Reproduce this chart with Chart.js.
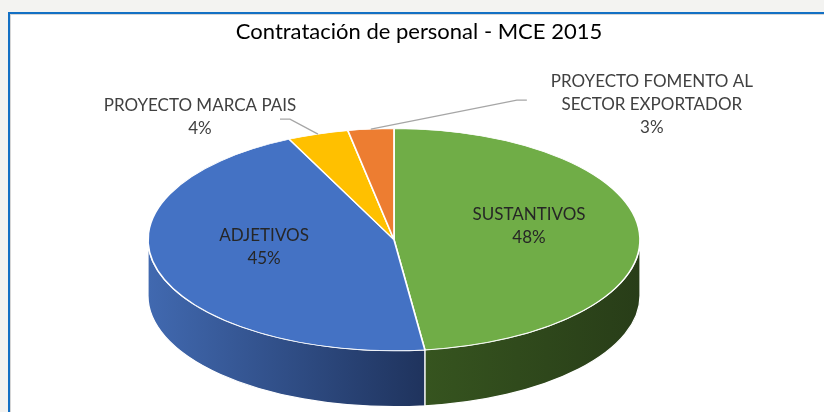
<!DOCTYPE html>
<html>
<head>
<meta charset="utf-8">
<script src="https://cdn.jsdelivr.net/npm/chart.js@4"></script>
<style>
html, body { margin: 0; padding: 0; width: 824px; height: 412px; overflow: hidden; background: #f3f3f1; }
#frame { position: absolute; left: 8px; top: 12px; width: 900px; height: 500px; background: #fff;
  border-top: 2px solid #1370c4; border-left: 2px solid #1370c4; box-shadow: inset 1px 1px 0 #d6d6d6; }
#wrap { position: absolute; left: 0; top: 0; width: 824px; height: 412px; }
</style>
</head>
<body>
<div id="frame"></div>
<div id="wrap"><canvas id="pie"></canvas></div>
<script>
const chartTitle = 'Contratación de personal - MCE 2015';
const categories = [['SUSTANTIVOS'], ['ADJETIVOS'], ['PROYECTO MARCA PAIS'], ['PROYECTO FOMENTO AL', 'SECTOR EXPORTADOR']];
const shares = [48, 45, 4, 3];
const topColors = ['#70ad47', '#4472c4', '#ffc000', '#ed7d31'];
const sideColors = [['#36541f', '#283d18'], ['#4169b0', '#1f335d'], ['#b88a00', '#8a6700'], ['#b45a1f', '#8a4415']];

// shape of the tilted pie
const RX = 246, RY = 111, DEPTH = 56, SHIFT_X = -25;
const FONT = 'Lato';
const LINE_H = 23;

// where the small slices put their labels, relative to the slice edge
const outside = {
  2: { text: [-118, -17], elbow: [-28, -15], tail: -10 },
  3: { text: [281, -25], elbow: [146, -29], tail: 10 }
};

const total = shares.reduce((a, b) => a + b, 0);

function geom(chart) {
  const arc = chart.getDatasetMeta(0).data[0];
  return { x: arc.x + SHIFT_X, y: arc.y, r: arc.outerRadius, ox: arc.x, oy: arc.y };
}

const pie3d = {
  id: 'pie3d',
  beforeDatasetsDraw(chart) {
    const ctx = chart.ctx;
    const arcs = chart.getDatasetMeta(0).data;
    const g = geom(chart);

    // side walls of the front half
    arcs.forEach((arc, i) => {
      [[0, Math.PI], [2 * Math.PI, 3 * Math.PI]].forEach(([lo, hi]) => {
        const s = Math.max(arc.startAngle, lo), e = Math.min(arc.endAngle, hi);
        if (e <= s) return;
        const xl = g.x + RX * Math.cos(e), xr = g.x + RX * Math.cos(s);
        const grad = ctx.createLinearGradient(xl, 0, xr, 0);
        grad.addColorStop(0, sideColors[i][0]);
        grad.addColorStop(1, sideColors[i][1]);
        ctx.save();
        ctx.beginPath();
        ctx.ellipse(g.x, g.y, RX, RY, 0, s, e);
        ctx.ellipse(g.x, g.y + DEPTH, RX, RY, 0, e, s, true);
        ctx.closePath();
        ctx.fillStyle = grad;
        ctx.fill();
        ctx.strokeStyle = '#ffffff';
        ctx.lineWidth = 1.2;
        ctx.stroke();
        ctx.restore();
      });
    });

    // squash the top face into an ellipse
    ctx.save();
    ctx.translate(g.x, g.y);
    ctx.scale(RX / g.r, RY / g.r);
    ctx.translate(-g.ox, -g.oy);
  },
  afterDatasetsDraw(chart) {
    const ctx = chart.ctx;
    ctx.restore();
    const arcs = chart.getDatasetMeta(0).data;
    const g = geom(chart);
    ctx.save();
    ctx.textAlign = 'center';
    ctx.textBaseline = 'middle';
    ctx.font = '17px ' + FONT;
    arcs.forEach((arc, i) => {
      const mid = (arc.startAngle + arc.endAngle) / 2;
      const lines = categories[i].concat([Math.round(shares[i] / total * 100) + '%']);
      let tx, ty;
      if (outside[i]) {
        const o = outside[i];
        const ax = g.x + RX * Math.cos(mid), ay = g.y + RY * Math.sin(mid);
        const ex = ax + o.elbow[0], ey = ay + o.elbow[1];
        ctx.strokeStyle = '#a6a6a6';
        ctx.lineWidth = 1.3;
        ctx.beginPath();
        ctx.moveTo(ax, ay);
        ctx.lineTo(ex, ey);
        ctx.lineTo(ex + o.tail, ey);
        ctx.stroke();
        tx = ax + o.text[0];
        ty = ay + o.text[1];
        ctx.fillStyle = '#404040';
      } else {
        tx = g.x + RX * 0.55 * Math.cos(mid);
        ty = g.y + RY * 0.55 * Math.sin(mid) - 10;
        ctx.fillStyle = '#262626';
      }
      const top = ty - (lines.length - 1) * LINE_H / 2;
      lines.forEach((t, k) => ctx.fillText(t, tx, top + k * LINE_H));
    });
    ctx.restore();
  }
};

new Chart(document.getElementById('pie'), {
  type: 'pie',
  data: {
    labels: categories.map(c => c.join(' ')),
    datasets: [{
      data: shares,
      backgroundColor: topColors,
      borderColor: '#ffffff',
      borderWidth: 1.2,
      hoverOffset: 0
    }]
  },
  options: {
    responsive: true,
    maintainAspectRatio: false,
    animation: false,
    layout: { padding: { left: 14, right: 0, top: 0, bottom: 0 } },
    plugins: {
      legend: { display: false },
      tooltip: { enabled: false },
      title: {
        display: true,
        text: chartTitle,
        color: '#000000',
        font: { family: FONT, size: 22, weight: 'normal' },
        padding: { top: 19, bottom: 22 }
      }
    }
  },
  plugins: [pie3d]
});
</script>
</body>
</html>
